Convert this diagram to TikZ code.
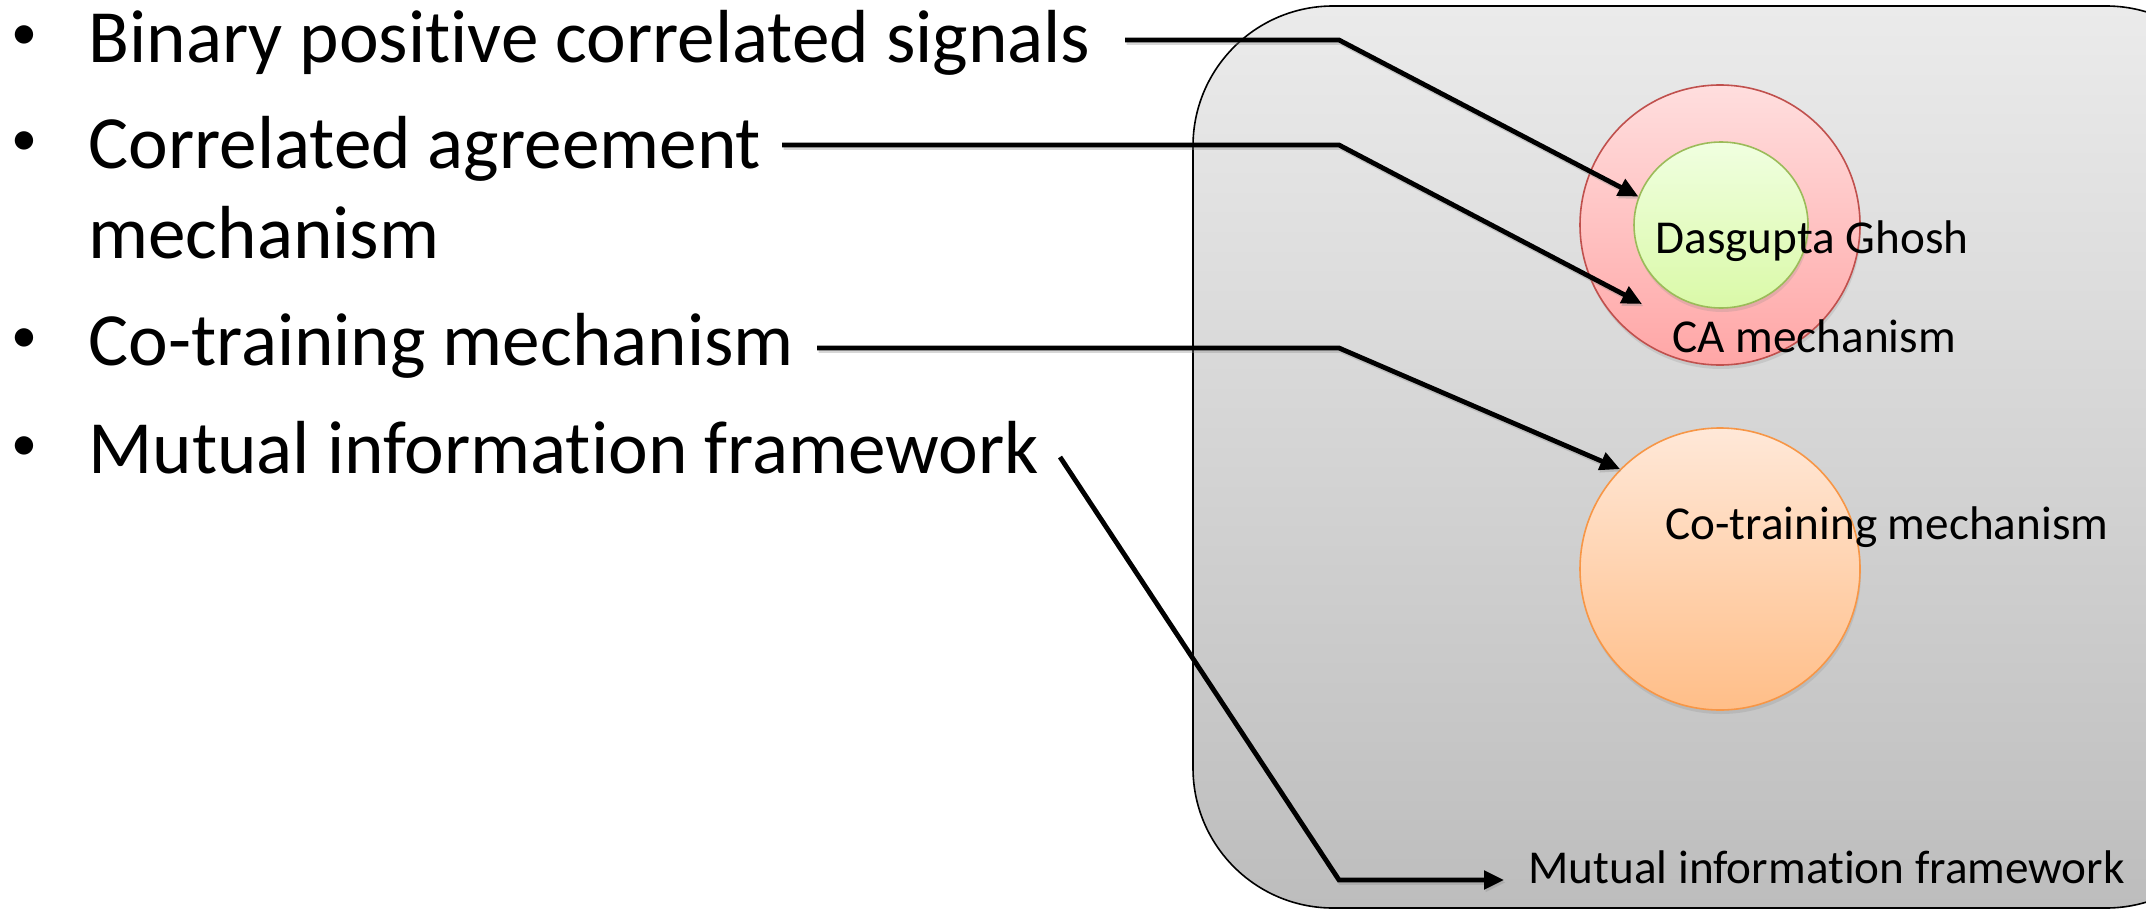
\documentclass[tikz,border=0pt]{standalone}
\usepackage{fontspec}
\setmainfont{Carlito}[Ligatures={NoCommon}]
\usetikzlibrary{shapes.geometric,arrows.meta,shadows}
\definecolor{boxtop}{HTML}{EBEBEB}
\definecolor{boxbot}{HTML}{BDBDBD}
\definecolor{redline}{HTML}{C0504D}
\definecolor{redtop}{HTML}{FFDEDE}
\definecolor{redbot}{HTML}{FFA6A6}
\definecolor{greenline}{HTML}{9BBB59}
\definecolor{greentop}{HTML}{F0FFE0}
\definecolor{greenbot}{HTML}{DAF9A8}
\definecolor{orangeline}{HTML}{F79646}
\definecolor{orangetop}{HTML}{FFE8D8}
\definecolor{orangebot}{HTML}{FFBE88}
\begin{document}
\begin{tikzpicture}[x=0.5pt,y=-0.5pt,
  bigtxt/.style={font=\fontsize{37.6pt}{45pt}\selectfont, anchor=base west, inner sep=0pt},
  bullettxt/.style={font=\fontsize{26pt}{30pt}\selectfont, anchor=base west, inner sep=0pt},
  smalltxt/.style={font=\fontsize{23.6pt}{28pt}\selectfont, anchor=base west, inner sep=0pt},
  conn/.style={line width=2.4pt, -{Triangle[length=10pt,width=9pt]},
    preaction={draw=black!45, opacity=0.35, line width=2.4pt,
      transform canvas={xshift=0.8pt,yshift=-1.2pt}}},
  blob/.style={ellipse, inner sep=0pt, line width=0.8pt,
    drop shadow={shadow xshift=0.5pt, shadow yshift=-2pt, opacity=0.2}}]
\useasboundingbox (0,0) rectangle (2146,910);

% container
\path[draw=black, line width=0.8pt, top color=boxtop, bottom color=boxbot, rounded corners=70pt]
  (1193,6) -- (2246,6) -- (2246,908) -- (1193,908) -- cycle;

% ellipses
\node[blob, draw=redline, top color=redtop, bottom color=redbot,
  minimum width=140pt, minimum height=140pt] (red) at (1720,225) {};
\node[blob, draw=greenline, top color=greentop, bottom color=greenbot,
  minimum width=87pt, minimum height=83pt] (green) at (1721,225) {};
\node[blob, draw=orangeline, top color=orangetop, bottom color=orangebot,
  minimum width=140pt, minimum height=141pt] (orange) at (1720,569) {};

% labels inside
\node[smalltxt] (dg) at (1655,253) {Dasgupta Ghosh};
\node[smalltxt] (ca) at (1672,352) {CA mechanism};
\node[smalltxt] (co) at (1665,539) {Co-training mechanism};
\node[smalltxt] (mif) at (1528,883) {Mutual information framework};

% bullets
\node[bullettxt] (b1) at (11,49) {•};
\node[bullettxt] (b2) at (11,155) {•};
\node[bullettxt] (b3) at (11,352) {•};
\node[bullettxt] (b4) at (11,460) {•};
\node[bigtxt] (t1) at (88,62) {Binary positive correlated signals};
\node[bigtxt] (t2) at (88,168) {Correlated agreement};
\node[bigtxt] (t2b) at (88,258) {mechanism};
\node[bigtxt] (t3) at (88,365) {Co-training mechanism};
\node[bigtxt] (t4) at (88,473) {Mutual information framework};

% connector coordinates
\coordinate (s1) at (1125,40);  \coordinate (k1) at (1339,40);
\coordinate (s2) at (782,145);  \coordinate (k2) at (1339,145);
\coordinate (catip) at (1642,304);
\coordinate (s3) at (817,348);  \coordinate (k3) at (1339,348);
\coordinate (s4) at (1060,457); \coordinate (k4) at (1339,880);

\draw[conn] (s1) -- (k1) -- (green.161);
\draw[conn] (s2) -- (k2) -- (catip);
\draw[conn] (s3) -- (k3) -- (orange.135);
\draw[conn, shorten >=12pt] (s4) -- (k4) -- (mif.west |- k4);
\end{tikzpicture}
\end{document}
